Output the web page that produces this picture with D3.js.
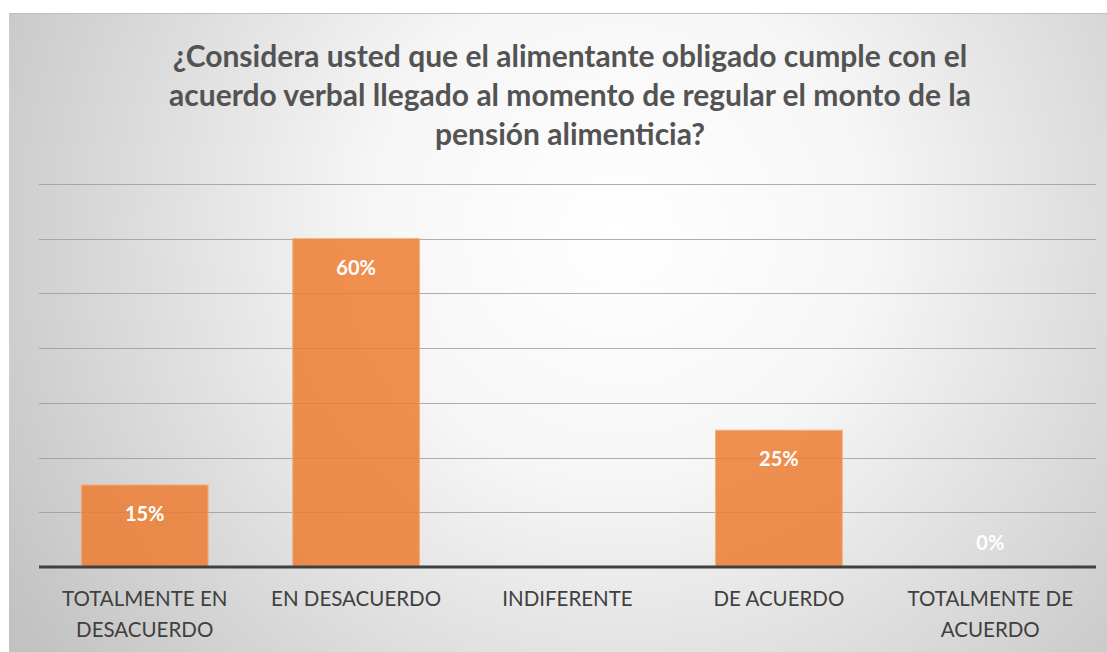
<!DOCTYPE html>
<html>
<head>
<meta charset="utf-8">
<script src="https://cdn.jsdelivr.net/npm/d3@7"></script>
<style>
body { margin: 0; background: #fff; }
</style>
</head>
<body>
<div id="vis"></div>
<script>
var categories = [["TOTALMENTE EN", "DESACUERDO"], ["EN DESACUERDO"], ["INDIFERENTE"], ["DE ACUERDO"], ["TOTALMENTE DE", "ACUERDO"]];
var values = [15, 60, null, 25, 0];
var value_labels = ["15%", "60%", "", "25%", "0%"];
var title_lines = ["¿Considera usted que el alimentante obligado cumple con el", "acuerdo verbal llegado al momento de regular el monto de la", "pensión alimenticia?"];
var grid_ticks = [0, 10, 20, 30, 40, 50, 60, 70];

var width = 1107, height = 652;
var svg = d3.select("#vis").append("svg").attr("width", width).attr("height", height);

var defs = svg.append("defs");
var grad = defs.append("radialGradient").attr("id", "bg")
    .attr("gradientUnits", "userSpaceOnUse")
    .attr("cx", 620).attr("cy", 230).attr("r", 720);
grad.append("stop").attr("offset", "0%").attr("stop-color", "#ffffff");
grad.append("stop").attr("offset", "35%").attr("stop-color", "#f6f6f6");
grad.append("stop").attr("offset", "100%").attr("stop-color", "#c2c2c2");

svg.append("rect").attr("x", 9).attr("y", 13).attr("width", width - 9).attr("height", height - 13)
    .attr("fill", "url(#bg)");
svg.append("line").attr("x1", 9).attr("x2", width).attr("y1", 13.5).attr("y2", 13.5)
    .attr("stroke", "#bfbfbf");

var font = "Lato, 'Open Sans', sans-serif";

// title
svg.append("g").selectAll("text").data(title_lines).enter().append("text")
    .attr("x", 570).attr("y", function(d, i) { return 67 + i * 39; })
    .attr("text-anchor", "middle")
    .attr("font-family", font).attr("font-weight", "bold").attr("font-size", 30)
    .attr("fill", "#535353")
    .text(function(d) { return d; });

var x = d3.scaleBand().domain(d3.range(categories.length)).range([39, 1096]).paddingInner(0.4).paddingOuter(0.2);
var y = d3.scaleLinear().domain([0, 70]).range([567, 184]);

// gridlines
svg.append("g").selectAll("line").data(grid_ticks.slice(1)).enter().append("line")
    .attr("x1", 39).attr("x2", 1096)
    .attr("y1", function(d) { return Math.round(y(d)) + 0.5; })
    .attr("y2", function(d) { return Math.round(y(d)) + 0.5; })
    .attr("stroke", "#9a9a9a")
    .attr("stroke-opacity", 0.8)
    .attr("stroke-width", 1);

// bars
svg.append("g").selectAll("rect").data(values).enter().append("rect")
    .filter(function(d) { return d; })
    .attr("x", function(d) { return x(values.indexOf(d)); })
    .attr("y", function(d) { return y(d); })
    .attr("width", x.bandwidth())
    .attr("height", function(d) { return y(0) - y(d); })
    .attr("fill", "#ed7d31").attr("fill-opacity", 0.85)
    .attr("stroke", "#f4b183").attr("stroke-width", 1);

// axis line
svg.append("line").attr("x1", 39).attr("x2", 1096).attr("y1", 567).attr("y2", 567)
    .attr("stroke", "#404040").attr("stroke-width", 3);

// data labels
svg.append("g").selectAll("text").data(values).enter().append("text")
    .attr("x", function(d, i) { return x(i) + x.bandwidth() / 2; })
    .attr("y", function(d) { return d === null ? 0 : (d === 0 ? y(0) - 17 : y(d) + 36); })
    .attr("text-anchor", "middle")
    .attr("font-family", font).attr("font-weight", "bold").attr("font-size", 20)
    .attr("fill", "#ffffff")
    .text(function(d, i) { return value_labels[i]; });

// category labels
var cat = svg.append("g").selectAll("text").data(categories).enter().append("text")
    .attr("x", function(d, i) { return x(i) + x.bandwidth() / 2; })
    .attr("y", 606)
    .attr("text-anchor", "middle")
    .attr("font-family", font).attr("font-size", 20.5)
    .attr("fill", "#404040");
cat.selectAll("tspan").data(function(d) { return d; }).enter().append("tspan")
    .attr("x", function() { return d3.select(this.parentNode).attr("x"); })
    .attr("dy", function(d, i) { return i === 0 ? 0 : 31; })
    .text(function(d) { return d; });
</script>
</body>
</html>
